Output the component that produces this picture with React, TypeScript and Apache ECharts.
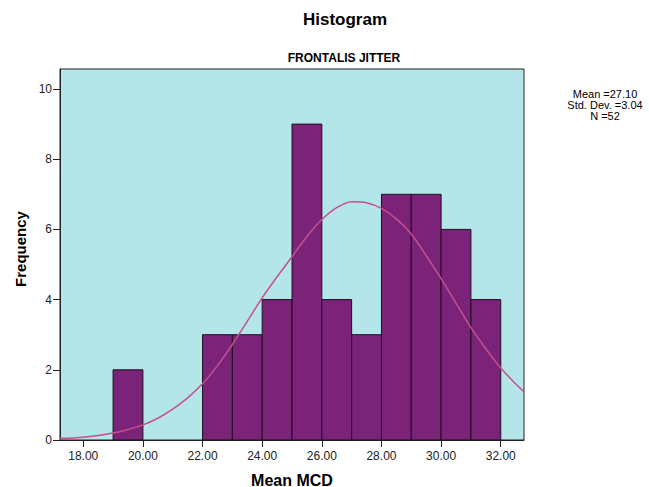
import React, { useEffect, useRef } from "react";
import * as echarts from "echarts";

const binStarts = [19, 20, 21, 22, 23, 24, 25, 26, 27, 28, 29, 30, 31];
const binCounts = [2, 0, 0, 3, 3, 4, 9, 4, 3, 7, 7, 6, 4];
const binWidth = 1;
const curveX = [17.22, 18, 18.5, 19, 19.5, 20, 20.5, 21, 21.5, 22, 22.5, 23, 23.5, 24, 24.5, 25, 25.5, 26, 26.5, 27, 27.5, 28, 28.5, 29, 29.5, 30, 30.5, 31, 31.5, 32, 32.5, 32.78];
const curveY = [0.04, 0.08, 0.13, 0.2, 0.3, 0.43, 0.62, 0.88, 1.2, 1.6, 2.12, 2.72, 3.38, 4.05, 4.65, 5.22, 5.8, 6.28, 6.62, 6.79, 6.76, 6.6, 6.3, 5.87, 5.25, 4.6, 3.9, 3.2, 2.6, 2.05, 1.6, 1.37];
const xTicks = [18, 20, 22, 24, 26, 28, 30, 32];
const yTicks = [0, 2, 4, 6, 8, 10];
const statsLines = ["Mean =27.10", "Std. Dev. =3.04", "N =52"];

const FONT = "'Liberation Sans', Arial, sans-serif";

export default function App() {
  const ref = useRef<HTMLDivElement>(null);
  useEffect(() => {
    if (!ref.current) return;
    const chart = echarts.init(ref.current, null, { renderer: "svg" });
    const barData = binStarts.map((s, i) => [s, s + binWidth, binCounts[i]]);
    chart.setOption({
      animation: false,
      textStyle: { fontFamily: FONT },
      title: [
        {
          text: "Histogram",
          left: 345,
          top: 11,
          padding: 0,
          textAlign: "center",
          textStyle: { fontFamily: FONT, fontSize: 17, fontWeight: "bold", color: "#000" },
        },
        {
          text: "FRONTALIS JITTER",
          left: 344,
          top: 52,
          padding: 0,
          textAlign: "center",
          textStyle: { fontFamily: FONT, fontSize: 12, fontWeight: "bold", color: "#000" },
        },
      ],
      grid: {
        left: 60,
        top: 69,
        right: 125,
        bottom: 47,
        outerBoundsMode: "none",
        containLabel: false,
        show: true,
        backgroundColor: "#b4e6e9",
        borderColor: "#222",
        borderWidth: 1,
      },
      xAxis: {
        type: "value",
        min: 17.22,
        max: 32.78,
        axisLine: { show: true, lineStyle: { color: "#222", width: 1 } },
        axisTick: { show: true, customValues: xTicks, length: 7, lineStyle: { color: "#222" } },
        axisLabel: {
          customValues: xTicks,
          formatter: (v: number) => v.toFixed(2),
          fontSize: 12,
          color: "#222",
          margin: 10,
          fontFamily: FONT,
        },
        splitLine: { show: false },
      },
      yAxis: {
        type: "value",
        min: 0,
        max: 10.57,
        axisLine: { show: true, lineStyle: { color: "#222", width: 1 } },
        axisTick: { show: true, customValues: yTicks, length: 7, lineStyle: { color: "#222" } },
        axisLabel: {
          customValues: yTicks,
          fontSize: 12,
          color: "#222",
          margin: 8,
          fontFamily: FONT,
        },
        splitLine: { show: false },
      },
      series: [
        {
          type: "custom",
          data: barData,
          encode: { x: [0, 1], y: 2 },
          renderItem: (params: any, api: any) => {
            const x0 = api.value(0);
            const x1 = api.value(1);
            const y = api.value(2);
            if (!y) return null;
            const p0 = api.coord([x0, y]);
            const p1 = api.coord([x1, 0]);
            return {
              type: "rect",
              shape: { x: p0[0], y: p0[1], width: p1[0] - p0[0], height: p1[1] - p0[1] },
              style: { fill: "#7b2379", stroke: "#1e0f1e", lineWidth: 1 },
            };
          },
          z: 2,
        },
        {
          type: "line",
          data: curveX.map((x, i) => [x, curveY[i]]),
          smooth: 0.3,
          showSymbol: false,
          symbol: "none",
          lineStyle: { color: "#c4508e", width: 1.5 },
          z: 3,
        },
      ],
      graphic: [
        ...statsLines.map((t, i) => ({
          type: "text",
          x: 605,
          y: 94 + i * 11,
          style: { text: t, fontFamily: FONT, fontSize: 11, fill: "#000", align: "center", verticalAlign: "middle" },
        })),
        {
          type: "text",
          x: 20,
          y: 249,
          rotation: Math.PI / 2,
          style: { text: "Frequency", fontFamily: FONT, fontSize: 15, fontWeight: "bold", fill: "#000", align: "center", verticalAlign: "middle" },
        },
        {
          type: "text",
          x: 292,
          y: 480,
          style: { text: "Mean MCD", fontFamily: FONT, fontSize: 16, fontWeight: "bold", fill: "#000", align: "center", verticalAlign: "middle" },
        },
      ],
    });
    return () => chart.dispose();
  }, []);
  return <div ref={ref} style={{ width: 649, height: 487, position: "absolute", left: 0, top: 0 }} />;
}
